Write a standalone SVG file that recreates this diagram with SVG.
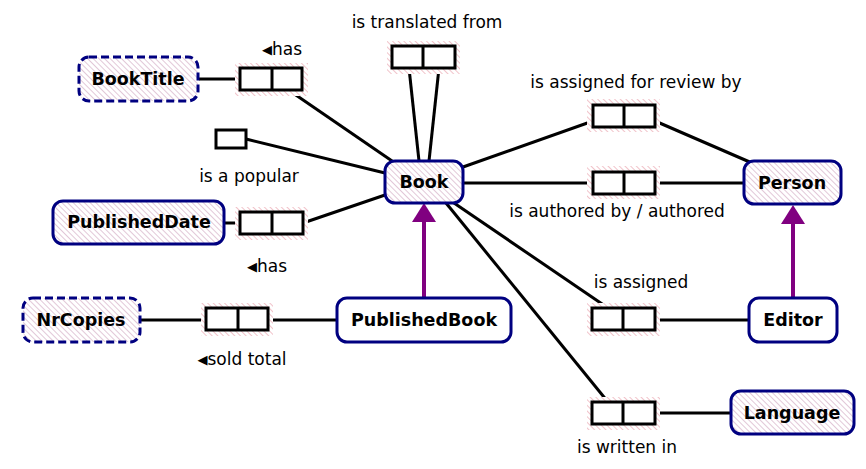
<svg xmlns="http://www.w3.org/2000/svg" width="866" height="469" viewBox="0 0 866 469">
<defs>
<pattern id="hE" width="4" height="4" patternUnits="userSpaceOnUse" patternTransform="rotate(-45)">
<rect width="4" height="4" fill="#ffffff"/>
<line x1="0" y1="0" x2="0" y2="4" stroke="#d6b0c8" stroke-width="1.4"/>
</pattern>
<pattern id="hF" width="4" height="4" patternUnits="userSpaceOnUse" patternTransform="rotate(-45)">
<rect width="4" height="4" fill="#ffffff"/>
<line x1="0" y1="0" x2="0" y2="4" stroke="#ebaab4" stroke-width="1.4"/>
</pattern>
</defs>
<style>
.ent{fill:url(#hE);stroke:#000080;stroke-width:3}
.val{fill:url(#hE);stroke:#000080;stroke-width:3;stroke-dasharray:8,4}
.plain{fill:#fff;stroke:#000080;stroke-width:3}
.nt{font-family:"DejaVu Sans",Verdana,sans-serif;font-weight:bold;font-size:17.5px;text-anchor:middle;fill:#000}
.lb{font-family:"DejaVu Sans",Verdana,sans-serif;font-size:17px;fill:#000}
.tri{font-size:13px}
.halo{fill:url(#hF)}
.box{fill:#fff;stroke:#000;stroke-width:3}
.ln{stroke:#000;stroke-width:3;fill:none}
.sub{stroke:#800080;stroke-width:4;fill:none}
</style>

<g id="connectors">
<line class="ln" x1="199" y1="79" x2="240" y2="79"/>
<line class="ln" x1="290" y1="91" x2="395" y2="163"/>
<line class="ln" x1="409" y1="68" x2="419" y2="161"/>
<line class="ln" x1="439" y1="68" x2="429" y2="161"/>
<line class="ln" x1="246" y1="139" x2="385" y2="173"/>
<line class="ln" x1="224" y1="223" x2="240" y2="223"/>
<line class="ln" x1="303" y1="223" x2="385" y2="195"/>
<line class="ln" x1="140" y1="320" x2="206" y2="320"/>
<line class="ln" x1="268" y1="320" x2="337" y2="320"/>
<line class="ln" x1="463" y1="167" x2="593" y2="121"/>
<line class="ln" x1="655" y1="121" x2="752" y2="163"/>
<line class="ln" x1="463" y1="183" x2="593" y2="183"/>
<line class="ln" x1="655" y1="183" x2="744" y2="183"/>
<line class="ln" x1="454" y1="203" x2="608" y2="308"/>
<line class="ln" x1="655" y1="320" x2="749" y2="320"/>
<line class="ln" x1="446" y1="203" x2="608" y2="402"/>
<line class="ln" x1="655" y1="413" x2="731" y2="413"/>
<line class="sub" x1="424" y1="298" x2="424" y2="215"/>
<path d="M424,203 L436,222 L412,222 Z" fill="#800080"/>
<line class="sub" x1="793" y1="298" x2="793" y2="217"/>
<path d="M793,205 L805,224 L781,224 Z" fill="#800080"/>
</g>

<g id="fact-has-title">
<rect class="halo" x="235" y="63" width="73" height="33"/>
<rect class="box" x="240" y="68" width="62" height="22"/>
<line class="ln" x1="272" y1="68" x2="272" y2="90"/>
<text class="lb" x="282" y="55" text-anchor="middle"><tspan class="tri" dy="-1">◀</tspan><tspan dy="1">has</tspan></text>
</g>
<g id="fact-translated">
<rect class="halo" x="387" y="41" width="73" height="33"/>
<rect class="box" x="392" y="46" width="63" height="22"/>
<line class="ln" x1="423" y1="46" x2="423" y2="68"/>
<text class="lb" x="427" y="28" text-anchor="middle">is translated from</text>
</g>
<g id="fact-popular">
<rect class="box" x="216" y="130" width="30" height="18"/>
<text class="lb" x="249" y="182" text-anchor="middle">is a popular</text>
</g>
<g id="fact-has-date">
<rect class="halo" x="235" y="207" width="73" height="33"/>
<rect class="box" x="240" y="212" width="63" height="22"/>
<line class="ln" x1="272" y1="212" x2="272" y2="234"/>
<text class="lb" x="267" y="272" text-anchor="middle"><tspan class="tri" dy="-1">◀</tspan><tspan dy="1">has</tspan></text>
</g>
<g id="fact-sold">
<rect class="halo" x="201" y="303" width="72" height="33"/>
<rect class="box" x="206" y="308" width="62" height="22"/>
<line class="ln" x1="238" y1="308" x2="238" y2="330"/>
<text class="lb" x="242" y="365" text-anchor="middle"><tspan class="tri" dy="-1">◀</tspan><tspan dy="1">sold total</tspan></text>
</g>
<g id="fact-review">
<rect class="halo" x="587" y="99" width="73" height="33"/>
<rect class="box" x="593" y="105" width="62" height="22"/>
<line class="ln" x1="624" y1="105" x2="624" y2="127"/>
<text class="lb" x="636" y="88" text-anchor="middle">is assigned for review by</text>
</g>
<g id="fact-authored">
<rect class="halo" x="587" y="166" width="73" height="33"/>
<rect class="box" x="593" y="172" width="62" height="22"/>
<line class="ln" x1="624" y1="172" x2="624" y2="194"/>
<text class="lb" x="617" y="217" text-anchor="middle">is authored by / authored</text>
</g>
<g id="fact-assigned">
<rect class="halo" x="587" y="303" width="73" height="33"/>
<rect class="box" x="592" y="308" width="63" height="22"/>
<line class="ln" x1="623" y1="308" x2="623" y2="330"/>
<text class="lb" x="641" y="288" text-anchor="middle">is assigned</text>
</g>
<g id="fact-written">
<rect class="halo" x="587" y="397" width="73" height="33"/>
<rect class="box" x="592" y="402" width="63" height="22"/>
<line class="ln" x1="623" y1="402" x2="623" y2="424"/>
<text class="lb" x="627" y="453" text-anchor="middle">is written in</text>
</g>

<g id="BookTitle">
<rect class="val" x="79" y="57" width="119" height="44" rx="10"/>
<text class="nt" x="138" y="85">BookTitle</text>
</g>
<g id="Book">
<rect class="ent" x="385" y="161" width="78" height="42" rx="10"/>
<text class="nt" x="424" y="188">Book</text>
</g>
<g id="PublishedDate">
<rect class="ent" x="53" y="201" width="171" height="43" rx="10"/>
<text class="nt" x="139" y="228">PublishedDate</text>
</g>
<g id="NrCopies">
<rect class="val" x="23" y="298" width="117" height="44" rx="10"/>
<text class="nt" x="81" y="326">NrCopies</text>
</g>
<g id="PublishedBook">
<rect class="plain" x="337" y="298" width="174" height="44" rx="10"/>
<text class="nt" x="424" y="326">PublishedBook</text>
</g>
<g id="Person">
<rect class="ent" x="744" y="161" width="97" height="43" rx="10"/>
<text class="nt" x="792" y="189">Person</text>
</g>
<g id="Editor">
<rect class="plain" x="749" y="298" width="88" height="44" rx="10"/>
<text class="nt" x="793" y="326">Editor</text>
</g>
<g id="Language">
<rect class="ent" x="731" y="391" width="123" height="43" rx="10"/>
<text class="nt" x="792" y="419">Language</text>
</g>
</svg>
